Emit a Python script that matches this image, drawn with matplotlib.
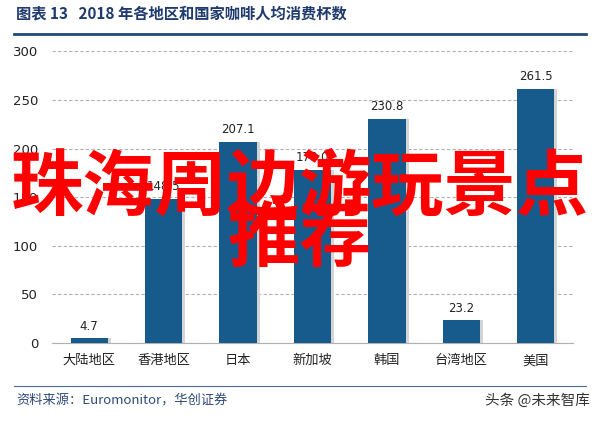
import matplotlib
matplotlib.use("Agg")
import matplotlib.pyplot as plt

plt.rcParams['font.family'] = ['Noto Sans CJK SC', 'DejaVu Sans']

# 数据
regions = ['大陆地区', '香港地区', '日本', '新加坡', '韩国', '台湾地区', '美国']
cups = [4.7, 148.5, 207.1, 178.0, 230.8, 23.2, 261.5]
yticks = [0, 50, 100, 150, 200, 250, 300]

fig = plt.figure(figsize=(6.03, 4.23), dpi=100)
ax = fig.add_axes([52/603, 80/423, 521/603, 291.5/423])

x = list(range(len(regions)))
# 阴影
ax.bar([i + 0.04 for i in x], cups, width=0.5, color='#d4d4d4', zorder=2)
ax.bar(x, cups, width=0.5, color='#175a8c', zorder=3)
for i, v in zip(x, cups):
    ax.text(i, v + 6, '%.1f' % v, ha='center', va='bottom', fontsize=8.5,
            color='#222222', family=['DejaVu Sans'], zorder=4)

ax.set_xlim(-0.5, len(regions) - 0.5)
ax.set_ylim(0, 300)
ax.set_yticks(yticks)
ax.set_yticklabels([str(t) for t in yticks], family=['DejaVu Sans'])
ax.set_xticks(x)
ax.set_xticklabels(regions, fontsize=9)
ax.tick_params(axis='both', length=0, colors='#222222', labelsize=9.5)
ax.tick_params(axis='y', pad=10)
ax.tick_params(axis='x', pad=8)
ax.yaxis.grid(True, linestyle=(0, (3, 2)), color='#b0b0b0', linewidth=0.8, zorder=0)
for s in ['top', 'right', 'left']:
    ax.spines[s].set_visible(False)
ax.spines['bottom'].set_color('#b0b0b0')

# 标题和线
fig.text(16/603, 1 - 13/423, '图表 13   2018 年各地区和国家咖啡人均消费杯数', fontsize=11,
         fontweight='bold', color='#1f3a6e', va='center', ha='left')
fig.add_artist(plt.Line2D([14/603, 586/603], [1 - 34/423, 1 - 34/423], color='#1f4a7a', linewidth=2))
fig.add_artist(plt.Line2D([14/603, 586/603], [1 - 386/423, 1 - 386/423], color='#4a6a9a', linewidth=0.8))

fig.text(16/603, 1 - 401/423, '资料来源：Euromonitor，华创证券', fontsize=9.5, style='italic',
         color='#2f4a7a', va='center', ha='left')
fig.text(590/603, 1 - 401/423, '头条 @未来智库', fontsize=10.5, color='#333333', va='center', ha='right')

# 水印文字
fig.text(300/603, 1 - 188/423, '珠海周边游玩景点', fontsize=52, fontweight='bold', color='#ff0000',
         va='center', ha='center', zorder=10)
fig.text(300/603, 1 - 240/423, '推荐', fontsize=52, fontweight='bold', color='#ff0000',
         va='center', ha='center', zorder=10)

fig.savefig('out.png', dpi=100)
